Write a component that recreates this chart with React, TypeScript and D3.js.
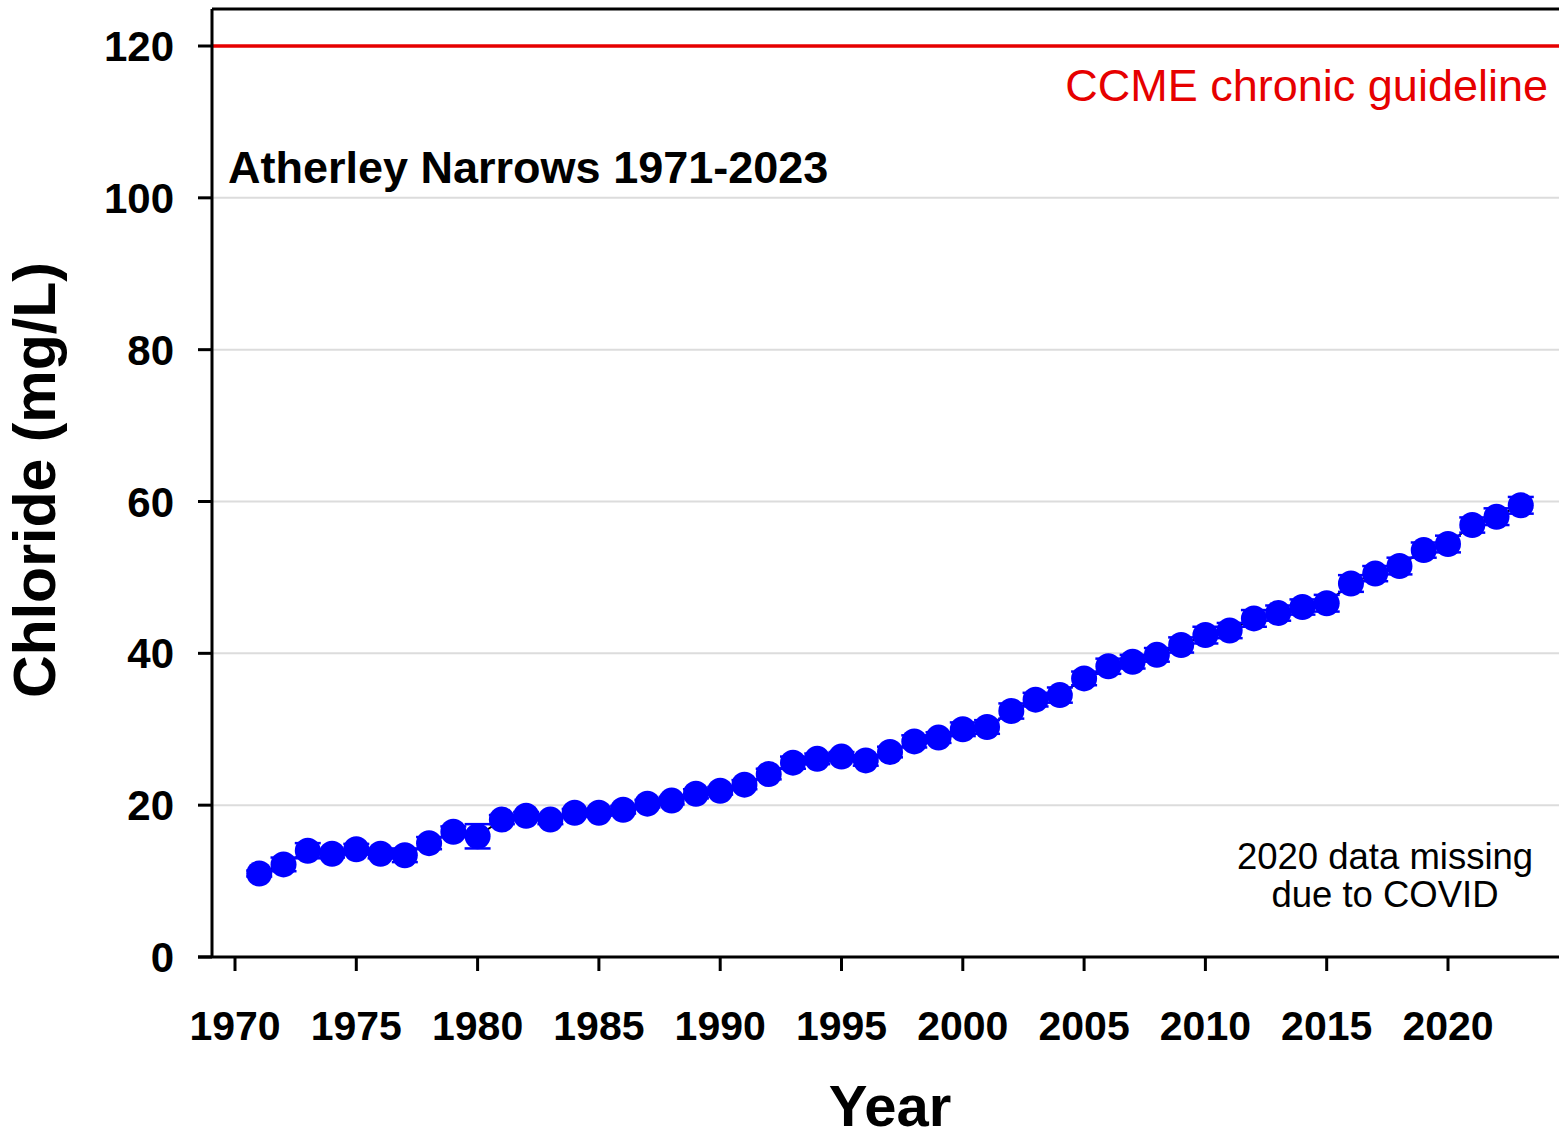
import React from "react";
import * as d3 from "d3";

const years: number[] = [
  1971, 1972, 1973, 1974, 1975, 1976, 1977, 1978, 1979, 1980,
  1981, 1982, 1983, 1984, 1985, 1986, 1987, 1988, 1989, 1990,
  1991, 1992, 1993, 1994, 1995, 1996, 1997, 1998, 1999, 2000,
  2001, 2002, 2003, 2004, 2005, 2006, 2007, 2008, 2009, 2010,
  2011, 2012, 2013, 2014, 2015, 2016, 2017, 2018, 2019, 2020,
  2021, 2022, 2023,
];
const chloride: number[] = [
  11.0, 12.2, 14.0, 13.6, 14.2, 13.6, 13.4, 15.0, 16.5, 15.9,
  18.1, 18.6, 18.1, 19.0, 19.0, 19.4, 20.2, 20.6, 21.5, 21.9,
  22.7, 24.1, 25.6, 26.1, 26.4, 25.9, 27.0, 28.4, 28.9, 30.0,
  30.3, 32.4, 33.9, 34.5, 36.7, 38.3, 38.9, 39.8, 41.1, 42.4,
  43.0, 44.6, 45.3, 46.1, 46.6, 49.2, 50.5, 51.5, 53.6, 54.4,
  56.9, 58.0, 59.5,
];
const errors: number[] = [
  0.4, 0.9, 1.0, 0.5, 0.7, 0.6, 0.9, 0.8, 0.7, 1.6,
  0.6, 0.5, 0.6, 0.5, 0.4, 0.5, 0.5, 0.5, 0.6, 0.5,
  0.6, 0.7, 0.8, 0.7, 0.6, 0.7, 0.7, 0.8, 0.7, 0.9,
  0.9, 1.0, 0.9, 1.0, 0.9, 1.0, 0.9, 0.9, 1.0, 1.1,
  1.0, 1.1, 1.0, 1.0, 1.1, 1.1, 1.0, 1.1, 1.0, 1.1,
  1.0, 1.1, 1.1,
];
const xTicks: number[] = [1970, 1975, 1980, 1985, 1990, 1995, 2000, 2005, 2010, 2015, 2020];
const yTicks: number[] = [0, 20, 40, 60, 80, 100, 120];
const gridValues: number[] = [20, 40, 60, 80, 100];
const guideline = 120;

const FONT = "'Liberation Sans', Arial, Helvetica, sans-serif";

export default function App() {
  const W = 1559;
  const H = 1139;
  const left = 212;
  const top = 9;
  const right = 1559;
  const bottom = 957;

  const x = d3.scaleLinear().domain([1970, 2020]).range([235, 1448]);
  const y = d3.scaleLinear().domain([0, 120]).range([bottom, 46]);

  const pts = years.map((yr, i) => ({ yr, v: chloride[i], e: errors[i] }));
  const line = d3
    .line<{ yr: number; v: number }>()
    .x((d) => x(d.yr))
    .y((d) => y(d.v));

  return (
    <svg
      width={W}
      height={H}
      style={{ position: "absolute", left: 0, top: 0, display: "block", background: "#fff" }}
      fontFamily={FONT}
    >
      <rect x={0} y={0} width={W} height={H} fill="#fff" />
      {gridValues.map((g) => (
        <line key={g} x1={left} x2={right} y1={y(g)} y2={y(g)} stroke="#dcdcdc" strokeWidth={2} />
      ))}
      <line x1={left} x2={right} y1={y(guideline)} y2={y(guideline)} stroke="#e60000" strokeWidth={3.5} />
      <text x={1548} y={101} textAnchor="end" fontSize={45} fill="#e60000">
        CCME chronic guideline
      </text>

      <line x1={left} x2={left} y1={top} y2={bottom} stroke="#000" strokeWidth={3} />
      <line x1={left} x2={right} y1={top} y2={top} stroke="#000" strokeWidth={3} />
      <line x1={198} x2={right} y1={bottom} y2={bottom} stroke="#000" strokeWidth={3} />

      {yTicks.map((t) => (
        <g key={t}>
          <line x1={198} x2={left} y1={y(t)} y2={y(t)} stroke="#000" strokeWidth={3} />
          <text x={174} y={y(t)} dy="0.36em" textAnchor="end" fontSize={42} fontWeight="bold">
            {t}
          </text>
        </g>
      ))}
      {xTicks.map((t) => (
        <g key={t}>
          <line x1={x(t)} x2={x(t)} y1={bottom} y2={971} stroke="#000" strokeWidth={3} />
          <text x={x(t)} y={1040} textAnchor="middle" fontSize={41} fontWeight="bold">
            {t}
          </text>
        </g>
      ))}

      <text x={890} y={1126} textAnchor="middle" fontSize={58} fontWeight="bold">
        Year
      </text>
      <text
        transform={`translate(55,480) rotate(-90)`}
        textAnchor="middle"
        fontSize={59}
        fontWeight="bold"
      >
        Chloride (mg/L)
      </text>

      <text x={228} y={183} fontSize={45} fontWeight="bold">
        Atherley Narrows 1971-2023
      </text>

      <text x={1385} y={869} textAnchor="middle" fontSize={36.5}>
        2020 data missing
      </text>
      <text x={1385} y={907} textAnchor="middle" fontSize={36.5}>
        due to COVID
      </text>

      <path d={line(pts) || ""} fill="none" stroke="#000" strokeWidth={2} />

      {pts.map((p) => (
        <g key={`e${p.yr}`} stroke="#0000ff" strokeWidth={2.5}>
          <line x1={x(p.yr)} x2={x(p.yr)} y1={y(p.v - p.e)} y2={y(p.v + p.e)} />
          <line x1={x(p.yr) - 13} x2={x(p.yr) + 13} y1={y(p.v - p.e)} y2={y(p.v - p.e)} />
          <line x1={x(p.yr) - 13} x2={x(p.yr) + 13} y1={y(p.v + p.e)} y2={y(p.v + p.e)} />
        </g>
      ))}

      {pts.map((p) => (
        <circle key={`c${p.yr}`} cx={x(p.yr)} cy={y(p.v)} r={13} fill="#0000ff" />
      ))}
    </svg>
  );
}
